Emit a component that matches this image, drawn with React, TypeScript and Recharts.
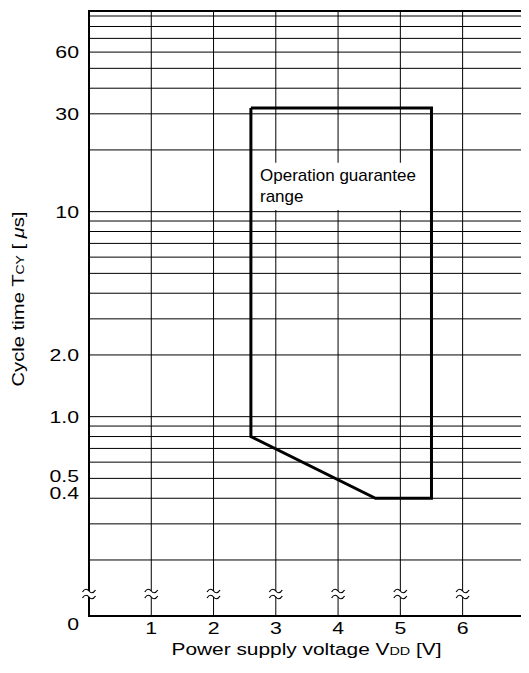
import React from "react";
import {
  ComposedChart,
  Line,
  XAxis,
  YAxis,
  CartesianGrid,
  ReferenceArea,
  ReferenceDot,
} from "recharts";

// axis limits (log y axis, bottom edge is shown as "0" after the break)
const X_MAX = 7.05;
const Y_FLOOR = 0.1066;
const Y_TOP = 95.2;
const Y_BREAK = 0.1365;

const X_TICKS = [1, 2, 3, 4, 5, 6];
const BREAK_X = [0, 1, 2, 3, 4, 5, 6, X_MAX];

const Y_GRID = [
  0.2, 0.3, 0.4, 0.5, 0.6, 0.7, 0.8, 0.9, 1, 2, 3, 4, 5, 6, 7, 8, 9, 10, 20,
  30, 40, 50, 60, 70, 80, 90,
];
const Y_LABEL_VALUES = [Y_FLOOR, 0.4, 0.5, 1, 2, 10, 30, 60];
const Y_LABEL_TEXT = ["0", "0.4", "0.5", "1.0", "2.0", "10", "30", "60"];

// operation guarantee range outline (V, us)
const REGION_V = [2.6, 5.5, 5.5, 4.6, 2.6, 2.6];
const REGION_T = [32, 32, 0.4, 0.4, 0.8, 32];
const region = REGION_V.map((v, i) => ({ v, t: REGION_T[i] }));

// white box behind the note
const NOTE_V = [2.65, 5.35];
const NOTE_T = [10.2, 17.3];

const FONT = "'Liberation Sans', Arial, Helvetica, sans-serif";

const YTick = (props: any) => {
  const { x, y, payload } = props;
  const i = Y_LABEL_VALUES.indexOf(payload.value);
  if (i < 0) return null;
  let dy = 0;
  if (payload.value === Y_FLOOR) dy = 8;
  if (payload.value === 0.5) dy = -3;
  if (payload.value === 0.4) dy = -5;
  return (
    <g transform={`translate(${x},${y + dy})`}>
      <text
        transform="scale(1.25,1)"
        textAnchor="end"
        dy="0.36em"
        fontSize={17}
        fontFamily={FONT}
        fill="#000"
      >
        {Y_LABEL_TEXT[i]}
      </text>
    </g>
  );
};

const XTick = (props: any) => {
  const { x, y, payload } = props;
  return (
    <g transform={`translate(${x},${y})`}>
      <text
        transform="scale(1.25,1)"
        textAnchor="middle"
        dy="0.72em"
        fontSize={17}
        fontFamily={FONT}
        fill="#000"
      >
        {payload.value}
      </text>
    </g>
  );
};

const BreakMark = (props: any) => {
  const { cx, cy } = props;
  const wave = (yy: number) =>
    `M ${cx - 6.5} ${yy + 1} C ${cx - 4} ${yy - 3}, ${cx - 1.5} ${yy - 2}, ${cx} ${yy} S ${cx + 4} ${yy + 3}, ${cx + 6.5} ${yy - 1}`;
  return (
    <g>
      <rect x={cx - 7} y={cy - 3} width={14} height={6} fill="#fff" />
      <path d={wave(cy - 3)} stroke="#000" strokeWidth={1.2} fill="none" />
      <path d={wave(cy + 3)} stroke="#000" strokeWidth={1.2} fill="none" />
    </g>
  );
};

const NoteLabel = (props: any) => {
  const { x, y } = props.viewBox;
  return (
    <text fontSize={17} fontFamily={FONT} fill="#000">
      <tspan x={x + 6} y={y + 17.7}>
        Operation guarantee
      </tspan>
      <tspan x={x + 6} y={y + 38.7}>
        range
      </tspan>
    </text>
  );
};

const YLabel = (props: any) => {
  const { y, height } = props.viewBox;
  const cy = y + height / 2 - 14.5;
  return (
    <text
      x={24}
      y={cy}
      transform={`rotate(-90 24 ${cy})`}
      textAnchor="middle"
      fontSize={16}
      fontFamily={FONT}
      fill="#000"
      textLength={175}
      lengthAdjust="spacingAndGlyphs"
    >
      Cycle time T<tspan fontSize={11}>CY</tspan> [ <tspan fontStyle="italic">μ</tspan>s]
    </text>
  );
};

const XLabel = (props: any) => {
  const { x, width } = props.viewBox;
  const cx = x + width / 2 - 2;
  return (
    <text
      x={cx}
      y={655}
      textAnchor="middle"
      fontSize={16}
      fontFamily={FONT}
      fill="#000"
      textLength={270}
      lengthAdjust="spacingAndGlyphs"
    >
      Power supply voltage V<tspan fontSize={11}>DD</tspan> [V]
    </text>
  );
};

export default function App() {
  return (
    <div style={{ margin: -8 }}>
      <ComposedChart
        width={529}
        height={673}
        margin={{ top: 11, right: 1, bottom: 0, left: 0 }}
      >
        <CartesianGrid stroke="#000" strokeWidth={1} />
        <XAxis
          type="number"
          dataKey="v"
          domain={[0, X_MAX]}
          ticks={X_TICKS}
          interval={0}
          allowDataOverflow
          axisLine={false}
          tickLine={false}
          tickSize={0}
          tickMargin={6}
          height={57}
          tick={<XTick />}
          label={<XLabel />}
        />
        <YAxis
          type="number"
          scale="log"
          domain={[Y_FLOOR, Y_TOP]}
          ticks={[Y_FLOOR, ...Y_GRID]}
          interval={0}
          allowDataOverflow
          axisLine={false}
          tickLine={false}
          tickSize={0}
          tickMargin={10}
          width={89}
          tick={<YTick />}
          label={<YLabel />}
        />
        <ReferenceArea
          x1={NOTE_V[0]}
          x2={NOTE_V[1]}
          y1={NOTE_T[0]}
          y2={NOTE_T[1]}
          fill="#fff"
          fillOpacity={1}
          stroke="none"
          label={<NoteLabel />}
        />
        <ReferenceArea
          x1={0}
          x2={X_MAX}
          y1={Y_FLOOR}
          y2={Y_TOP}
          fill="none"
          stroke="#000"
          strokeWidth={2}
        />
        <Line
          data={region}
          dataKey="t"
          type="linear"
          stroke="#000"
          strokeWidth={3}
          strokeLinejoin="miter"
          dot={false}
          activeDot={false}
          isAnimationActive={false}
        />
        {BREAK_X.map((v) => (
          <ReferenceDot
            key={v}
            x={v}
            y={Y_BREAK}
            r={6}
            shape={<BreakMark />}
          />
        ))}
      </ComposedChart>
    </div>
  );
}
